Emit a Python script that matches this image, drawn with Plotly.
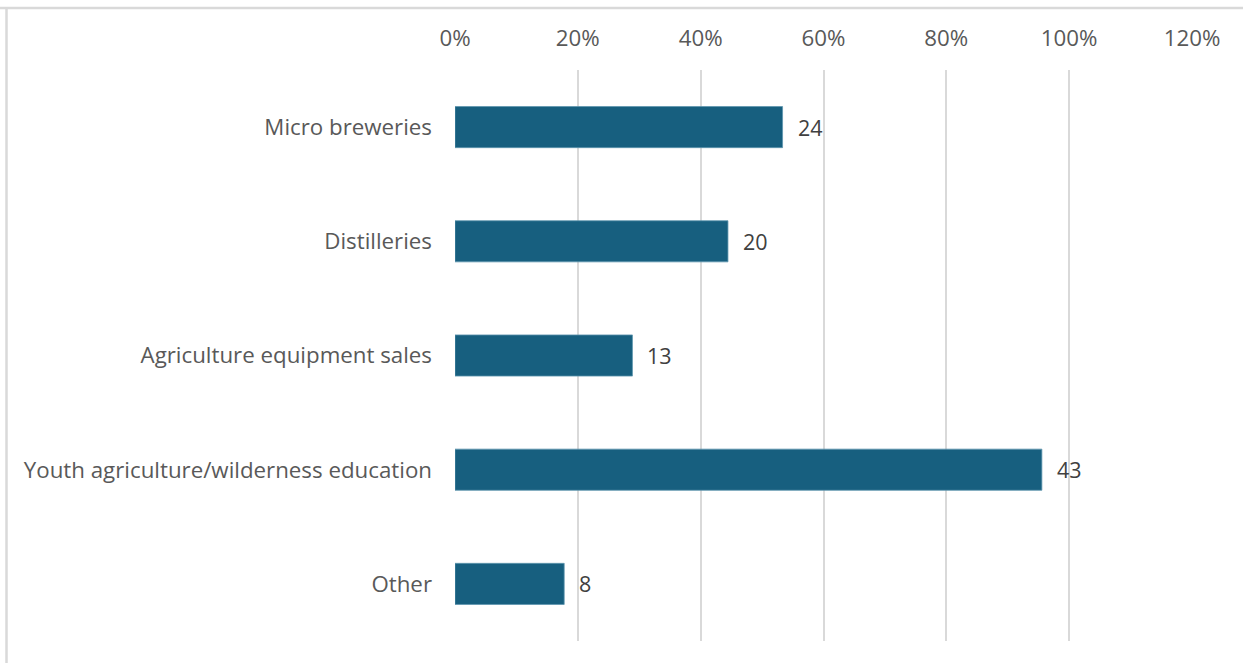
import plotly.graph_objects as go

# Survey responses: number of respondents choosing each business type
categories = [
    "Micro breweries",
    "Distilleries",
    "Agriculture equipment sales",
    "Youth agriculture/wilderness education",
    "Other",
]
counts = [24, 20, 13, 43, 8]
respondents = 45
shares = [c / respondents for c in counts]

tick_vals = [0, 0.2, 0.4, 0.6, 0.8, 1.0, 1.2]
tick_text = ["0%", "20%", "40%", "60%", "80%", "100%", "120%"]

bar_color = "#175F7F"
text_color = "#595959"
font_family = "'Open Sans', sans-serif"

fig = go.Figure(
    go.Bar(
        x=shares,
        y=categories,
        orientation="h",
        marker=dict(color=bar_color, line=dict(color="#5E95AE", width=0.8)),
        width=0.36,
        hoverinfo="skip",
    )
)

# Count labels just past the end of each bar
for cat, share, n in zip(categories, shares, counts):
    fig.add_annotation(
        x=share, y=cat, text=str(n), showarrow=False,
        xanchor="left", yanchor="middle", xshift=13,
        font=dict(size=21.5, color="#404040", family=font_family),
    )

# Light frame along the top and left edges
fig.add_shape(type="line", xref="paper", yref="paper",
              x0=-455 / 737, x1=1.2, y0=1 + 62 / 571, y1=1 + 62 / 571,
              line=dict(color="#D9D9D9", width=2.5))
fig.add_shape(type="line", xref="paper", yref="paper",
              x0=-448.5 / 737, x1=-448.5 / 737, y0=-1, y1=1 + 63 / 571,
              line=dict(color="#D9D9D9", width=2.5))

fig.update_layout(
    width=1243, height=663,
    margin=dict(l=455, r=51, t=70, b=22),
    paper_bgcolor="white", plot_bgcolor="white",
    showlegend=False,
    font=dict(family=font_family, color=text_color, size=22.3),
    bargap=0.64,
    xaxis=dict(
        side="top", range=[0, 1.2], tickvals=tick_vals, ticktext=tick_text,
        showgrid=True, gridcolor="#D9D9D9", gridwidth=2,
        zeroline=False, showline=False, ticks="",
        ticklabelstandoff=19,
        tickfont=dict(size=22.3, color=text_color),
        fixedrange=True,
    ),
    yaxis=dict(
        categoryorder="array", categoryarray=categories[::-1],
        showgrid=False, zeroline=False, showline=False, ticks="",
        ticklabelstandoff=22,
        tickfont=dict(size=22.3, color=text_color),
        fixedrange=True,
    ),
)

fig.write_html("out.html")
